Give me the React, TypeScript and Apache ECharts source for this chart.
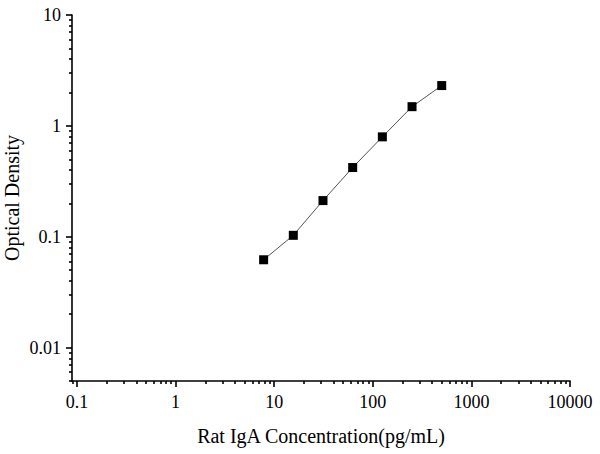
import React, { useEffect, useRef } from 'react';
import * as echarts from 'echarts';

// Standard curve data
const concentrations = [7.8125, 15.625, 31.25, 62.5, 125, 250, 500];
const opticalDensity = [0.062, 0.103, 0.212, 0.421, 0.796, 1.49, 2.31];

// Axis tick labels / ranges
const xTickLabels = ['0.1', '1', '10', '100', '1000', '10000'];
const yTickLabels = ['0.01', '0.1', '1', '10'];
const xRange = [0.089, 10000];
const yRange = [0.005, 10];

const xTitle = 'Rat IgA Concentration(pg/mL)';
const yTitle = 'Optical Density';

const lg = (v: number) => Math.log10(v);

function minorLogTicks(lo: number, hi: number): number[] {
  const out: number[] = [];
  const n0 = Math.floor(lg(lo));
  const n1 = Math.ceil(lg(hi));
  for (let n = n0; n <= n1; n++) {
    for (let k = 2; k <= 9; k++) {
      const v = k * Math.pow(10, n);
      if (v >= lo * 0.9999 && v <= hi * 1.0001) out.push(lg(v));
    }
  }
  return out;
}

const FONT = '"Liberation Serif", "Times New Roman", serif';

export default function App() {
  const ref = useRef<HTMLDivElement>(null);

  useEffect(() => {
    if (!ref.current) return;
    const chart = echarts.init(ref.current, undefined, { renderer: 'svg' });

    const xMin = lg(xRange[0]);
    const xMax = lg(xRange[1]);
    const yMin = lg(yRange[0]);
    const yMax = lg(yRange[1]);
    const xMajor = xTickLabels.map((s) => lg(parseFloat(s)));
    const yMajor = yTickLabels.map((s) => lg(parseFloat(s)));
    const xMinor = minorLogTicks(xRange[0], xRange[1]);
    const yMinor = minorLogTicks(yRange[0], yRange[1]);

    const fmt = (v: number) => {
      const i = xMajor.findIndex((m) => Math.abs(m - v) < 1e-6);
      return i >= 0 ? xTickLabels[i] : '';
    };
    const fmtY = (v: number) => {
      const i = yMajor.findIndex((m) => Math.abs(m - v) < 1e-6);
      return i >= 0 ? yTickLabels[i] : '';
    };

    const labelStyle = { color: '#000', fontFamily: FONT, fontSize: 18 };
    const nameStyle = { color: '#000', fontFamily: FONT, fontSize: 20 };
    const lineStyle = { color: '#000', width: 1.6 };

    chart.setOption({
      animation: false,
      backgroundColor: '#fff',
      grid: {
        left: 72,
        top: 15,
        right: 30,
        bottom: 73,
        containLabel: false,
        outerBoundsMode: 'none',
      },
      xAxis: [
        {
          type: 'value',
          min: xMin,
          max: xMax,
          position: 'bottom',
          name: xTitle,
          nameLocation: 'middle',
          nameGap: 45,
          nameMoveOverlap: false,
          nameTextStyle: nameStyle,
          axisLine: { show: true, onZero: false, lineStyle },
          axisTick: { show: true, inside: false, length: 6, customValues: xMajor, lineStyle },
          axisLabel: { ...labelStyle, margin: 12, customValues: xMajor, formatter: fmt },
          splitLine: { show: false },
        },
        {
          type: 'value',
          min: xMin,
          max: xMax,
          position: 'bottom',
          offset: 0,
          axisLine: { show: false, onZero: false },
          axisTick: { show: true, inside: false, length: 3, customValues: xMinor, lineStyle },
          axisLabel: { show: false },
          splitLine: { show: false },
        },
      ],
      yAxis: [
        {
          type: 'value',
          min: yMin,
          max: yMax,
          position: 'left',
          name: yTitle,
          nameLocation: 'middle',
          nameGap: 50,
          nameMoveOverlap: false,
          nameTextStyle: nameStyle,
          axisLine: { show: true, onZero: false, lineStyle },
          axisTick: { show: true, inside: false, length: 6, customValues: yMajor, lineStyle },
          axisLabel: { ...labelStyle, margin: 11, customValues: yMajor, formatter: fmtY },
          splitLine: { show: false },
        },
        {
          type: 'value',
          min: yMin,
          max: yMax,
          position: 'left',
          offset: 0,
          axisLine: { show: false, onZero: false },
          axisTick: { show: true, inside: false, length: 3, customValues: yMinor, lineStyle },
          axisLabel: { show: false },
          splitLine: { show: false },
        },
      ],
      series: [
        {
          type: 'line',
          xAxisIndex: 0,
          yAxisIndex: 0,
          data: concentrations.map((c, i) => [lg(c), lg(opticalDensity[i])]),
          symbol: 'rect',
          symbolSize: 9,
          itemStyle: { color: '#000' },
          lineStyle: { color: '#555', width: 1 },
          smooth: false,
        },
      ],
    });

    return () => chart.dispose();
  }, []);

  return (
    <div
      ref={ref}
      style={{ position: 'absolute', left: 0, top: 0, width: 600, height: 454, background: '#fff' }}
    />
  );
}
